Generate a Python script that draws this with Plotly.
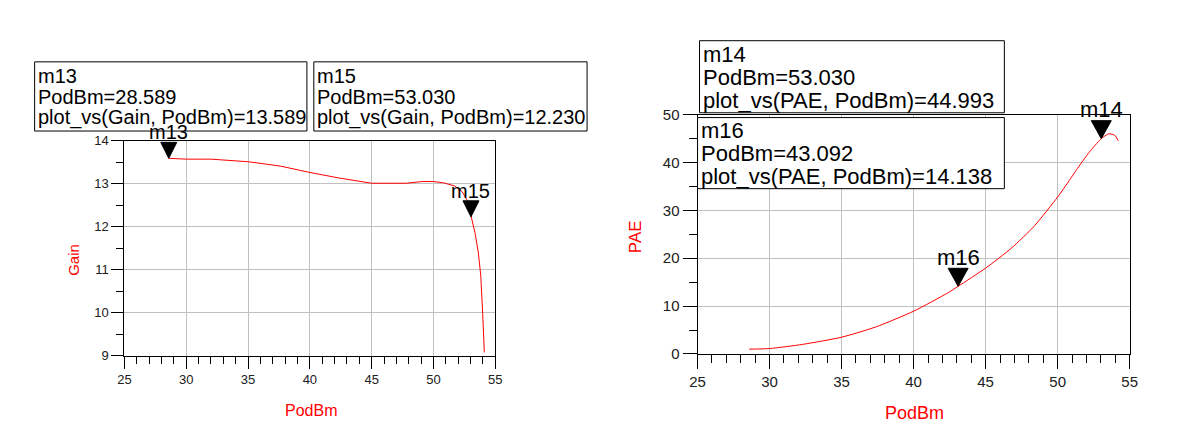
import plotly.graph_objects as go

W, H = 1185, 434

# ---------------- data ----------------
gain_podbm = [28.589, 30, 32, 35, 37.6, 40, 42.4, 45, 47.8, 49.1, 50, 50.8, 51.7,
              52.3, 52.75, 53.03, 53.37, 53.63, 53.82, 53.98, 54.11]
gain_vals = [13.589, 13.57, 13.57, 13.51, 13.41, 13.26, 13.13, 13.01, 13.01, 13.05,
             13.05, 13.02, 12.95, 12.82, 12.6, 12.23, 11.84, 11.39, 10.87, 9.97, 9.08]

pae_podbm = [28.589, 30, 32.3, 35, 37.4, 40, 42.4, 43.092, 45, 46.8, 48.4, 50,
             50.8, 51.2, 52.1, 53.03, 53.55, 53.97, 54.2]
pae_vals = [1.0, 1.13, 2.0, 3.5, 5.67, 8.93, 12.8, 14.138, 17.93, 22.13, 26.8, 32.8,
            36.2, 38.0, 41.8, 44.993, 46.0, 45.7, 44.6]

gain_markers = ["m13", "m15"]
gain_marker_x = [28.589, 53.030]
gain_marker_y = [13.589, 12.230]

pae_markers = ["m14", "m16"]
pae_marker_x = [53.030, 43.092]
pae_marker_y = [44.993, 14.138]

x_ticks = [25, 30, 35, 40, 45, 50, 55]
gain_ticks = [9, 10, 11, 12, 13, 14]
pae_ticks = [0, 10, 20, 30, 40, 50]

FONT = "Arial, Liberation Sans, sans-serif"
RED = "#ff0000"
TICKC = "#202020"


def px(x):
    return x / W


def py(y):
    return 1 - y / H


fig = go.Figure()
fig.add_trace(go.Scatter(x=gain_podbm, y=gain_vals, mode="lines",
                         line=dict(color=RED, width=1), xaxis="x", yaxis="y",
                         showlegend=False, hoverinfo="skip"))
fig.add_trace(go.Scatter(x=pae_podbm, y=pae_vals, mode="lines",
                         line=dict(color=RED, width=1, shape="spline", smoothing=0.6),
                         xaxis="x2", yaxis="y2", showlegend=False, hoverinfo="skip"))


def axis(domain, rng, ticks, dtick_minor, ticklen, mlen, fsize, anchor):
    return dict(domain=domain, range=rng, tickmode="array", tickvals=ticks,
                ticks="outside", ticklen=ticklen, tickcolor="black", tickwidth=1,
                showline=True, linecolor="black", linewidth=1, mirror=True,
                showgrid=True, gridcolor="#c0c0c0", gridwidth=1, zeroline=False,
                tickfont=dict(family=FONT, size=fsize, color=TICKC),
                minor=dict(dtick=dtick_minor, tick0=0, ticks="outside", ticklen=mlen,
                           tickcolor="black", tickwidth=1, showgrid=False),
                anchor=anchor, fixedrange=True)


layout = dict(
    width=W, height=H, margin=dict(l=0, r=0, t=0, b=0),
    paper_bgcolor="white", plot_bgcolor="white", showlegend=False,
    xaxis=axis([px(118), px(494)], [25, 55], x_ticks, 1, 12, 7, 13, "y"),
    yaxis=axis([py(361), py(137)], [9, 14], gain_ticks, 0.5, 12, 7, 13, "x"),
    xaxis2=axis([px(699), px(1137)], [25, 55], x_ticks, 1, 14, 8, 15, "y2"),
    yaxis2=axis([py(359), py(110)], [0, 50], pae_ticks, 5, 14, 8, 15, "x2"),
)
fig.update_layout(**layout)

shapes = []
annotations = []

# axis titles
annotations += [
    dict(text="Gain", x=px(67), y=py(261), textangle=-90, font=dict(size=15, color=RED, family=FONT)),
    dict(text="PodBm", x=px(307), y=py(418), font=dict(size=16, color=RED, family=FONT)),
    dict(text="PAE", x=px(636), y=py(237), textangle=-90, font=dict(size=17, color=RED, family=FONT)),
    dict(text="PodBm", x=px(919), y=py(420), font=dict(size=18, color=RED, family=FONT)),
]
for a in annotations:
    a.update(xref="paper", yref="paper", showarrow=False, xanchor="center", yanchor="middle")


def marker_box(x0, y0, x1, y1, lines, line_y, tx, fsize):
    shapes.append(dict(type="rect", xref="paper", yref="paper", x0=px(x0), x1=px(x1),
                       y0=py(y0), y1=py(y1), line=dict(color="black", width=1),
                       fillcolor="white", layer="above"))
    for t, ly in zip(lines, line_y):
        annotations.append(dict(text=t, xref="paper", yref="paper", x=px(tx), y=py(ly),
                                xanchor="left", yanchor="middle", showarrow=False,
                                font=dict(size=fsize, color="black", family=FONT)))


def fmt(name, var, x, y):
    return [name, "PodBm=%.3f" % x, "plot_vs(%s, PodBm)=%.3f" % (var, y)]


marker_box(27, 55, 303, 127, fmt(gain_markers[0], "Gain", gain_marker_x[0], gain_marker_y[0]),
           [70, 91.5, 113], 28, 20)
marker_box(310, 55, 587, 127, fmt(gain_markers[1], "Gain", gain_marker_x[1], gain_marker_y[1]),
           [70, 91.5, 113], 311, 20)
marker_box(701, 33, 1010, 108, fmt(pae_markers[0], "PAE", pae_marker_x[0], pae_marker_y[0]),
           [47, 71, 95], 702, 22)
marker_box(699, 113, 1010, 187, fmt(pae_markers[1], "PAE", pae_marker_x[1], pae_marker_y[1]),
           [126, 150, 174], 700, 22)


def tri_markers(names, xs, ys, xr, yr, w, h, fsize, shift):
    for n, x, y in zip(names, xs, ys):
        shapes.append(dict(type="path", xref=xr, yref=yr, xsizemode="pixel", ysizemode="pixel",
                           xanchor=x, yanchor=y,
                           path="M %g,%g L %g,%g L 0,0 Z" % (-w / 2, h, w / 2, h),
                           fillcolor="black", line=dict(color="black", width=1), layer="above"))
        annotations.append(dict(text=n, xref=xr, yref=yr, x=x, y=y, yshift=shift,
                                xanchor="center", yanchor="middle", showarrow=False,
                                font=dict(size=fsize, color="black", family=FONT)))


tri_markers(gain_markers, gain_marker_x, gain_marker_y, "x", "y", 16, 16, 20, 26)
tri_markers(pae_markers, pae_marker_x, pae_marker_y, "x2", "y2", 20, 18, 22, 29)

fig.update_layout(shapes=shapes, annotations=annotations)
fig.write_html("out.html")
